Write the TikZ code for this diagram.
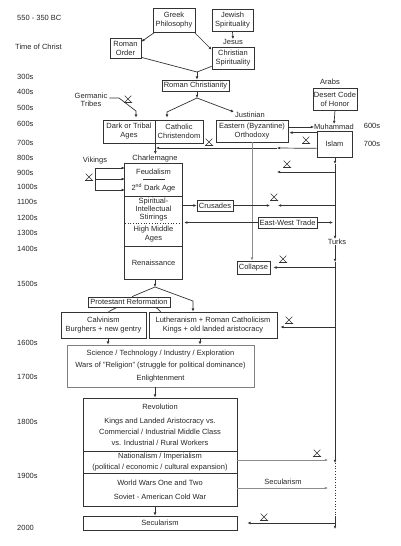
\documentclass[tikz,border=0pt]{standalone}
\usepackage{fontspec}
\setmainfont{Liberation Sans}
\usetikzlibrary{arrows.meta,calc}
\tikzset{
  lbl/.style={font=\fontsize{7.5}{9}\selectfont, inner sep=0pt, align=center, text=black!85},
  box/.style={lbl, draw=black!80, line width=0.7pt},
  ln/.style={draw=black!80, line width=0.7pt},
  arr/.style={ln, -{Latex[length=3.2pt,width=2.8pt]}},
  grey/.style={draw=black!45},
  xm/.pic={\draw[black!80, line width=0.6pt] (-3.3,-3.3)--(3.3,3.3) (-3.3,3.3)--(3.3,-3.3) (-4,3.5)--(4,3.5);}
}
\begin{document}
\begin{tikzpicture}[x=1pt,y=-1pt]
\useasboundingbox (0,0) rectangle (400,546);

% timeline
\node[lbl,anchor=west] (tbc) at (17,18) {550 - 350 BC};
\node[lbl,anchor=west] (tchr) at (15,47) {Time of Christ};
\foreach \t/\yy in {300s/77,400s/92,500s/108,600s/124,700s/143,800s/158,900s/173,1000s/187,1100s/202,1200s/218,1300s/233,1400s/249,1500s/284,1600s/343,1700s/377,1800s/422,1900s/476,2000/528}
  \node[lbl,anchor=west] (t\t) at (17,\yy) {\t};

% top boxes
\node[box,minimum width=42,minimum height=24] (greek) at (174,20) {Greek\\Philosophy};
\node[box,minimum width=41,minimum height=22] (jewish) at (232.5,20) {Jewish\\Spirituality};
\node[box,minimum width=31,minimum height=20] (ro) at (125.5,48) {Roman\\Order};
\node[lbl] (jesus) at (233,42) {Jesus};
\node[box,minimum width=42,minimum height=22] (christ) at (233,58) {Christian\\Spirituality};
\node[box,minimum width=67,minimum height=11] (romchr) at (195.5,85.5) {Roman Christianity};
\node[lbl] (arabs) at (330,82) {Arabs};
\node[box,minimum width=44,minimum height=22] (desert) at (335,99) {Desert Code\\of Honor};
\node[lbl,font=\fontsize{7.5}{8}\selectfont] (germ) at (91,100) {Germanic\\Tribes};
\node[box,minimum width=52,minimum height=23] (dark) at (129,131.5) {Dark or Tribal\\Ages};
\node[box,minimum width=48,minimum height=23] (cath) at (179,131.5) {Catholic\\Christendom};
\node[lbl] (just) at (250,115) {Justinian};
\node[box,minimum width=72,minimum height=22] (east) at (252,131) {Eastern (Byzantine)\\Orthodoxy};
\node[lbl] (muh) at (334,127) {Muhammad};
\node[box,minimum width=35,minimum height=26] (islam) at (334.5,144) {Islam};
\node[lbl] (r600) at (372,126) {600s};
\node[lbl] (r700) at (372,144) {700s};
\node[lbl] (charl) at (155,159) {Charlemagne};
\node[lbl] (vik) at (95,161) {Vikings};

% Charlemagne column
\node[lbl,minimum width=57,minimum height=32] (feud) at (153.5,180) {};
\node[lbl] (feudt) at (153.5,172) {Feudalism};
\node[lbl] (dark2) at (153.5,187.5) {2\textsuperscript{nd} Dark Age};
\node[lbl,minimum width=57,minimum height=27,font=\fontsize{7.5}{7.6}\selectfont] (spirit) at (153.5,209.5) {Spiritual-\\Intellectual\\Stirrings};
\node[lbl,minimum width=57,minimum height=23] (high) at (153.5,234.5) {High Middle\\Ages};
\node[lbl,minimum width=57,minimum height=33] (ren) at (153.5,262.5) {Renaissance};
\draw[ln] (feud.north west) rectangle (ren.south east);
\draw[ln] (feud.south west) -- (feud.south east);
\draw[ln,dotted] (spirit.south west) -- (spirit.south east);
\draw[ln] (high.south west) -- (high.south east);
\draw[ln] (143,179) -- (165,179);

% middle boxes
\node[box,minimum width=36,minimum height=11] (crus) at (215,205.5) {Crusades};
\node[box,minimum width=59,minimum height=11] (ewt) at (287.5,222.5) {East-West Trade};
\node[lbl] (turks) at (337,242) {Turks};
\node[box,minimum width=33,minimum height=13] (coll) at (253.5,267.5) {Collapse};
\node[box,minimum width=82,minimum height=10] (prot) at (129,302) {Protestant Reformation};
\node[box,minimum width=85,minimum height=26] (calv) at (103.5,325) {Calvinism\\Burghers + new gentry};
\node[box,minimum width=128,minimum height=26] (luth) at (213,325) {Lutheranism + Roman Catholicism\\Kings + old landed aristocracy};
\node[box,draw=black!50,minimum width=187,minimum height=42,font=\fontsize{7.5}{12.5}\selectfont] (sci) at (160.5,366) {Science / Technology / Industry / Exploration\\Wars of "Religion" (struggle for political dominance)\\Enlightenment};
\node[box,minimum width=154,minimum height=53,font=\fontsize{7.5}{11}\selectfont] (rev) at (160,424.5) {Revolution\\[3pt]Kings and Landed Aristocracy vs.\\Commercial / Industrial Middle Class\\vs. Industrial / Rural Workers};
\node[box,minimum width=154,minimum height=22,font=\fontsize{7.5}{11}\selectfont] (nat) at (160,462) {Nationalism / Imperialism\\(political / economic / cultural expansion)};
\node[box,minimum width=154,minimum height=33,font=\fontsize{7.5}{14}\selectfont] (ww) at (160,489.5) {World Wars One and Two\\Soviet - American Cold War};
\node[box,minimum width=154,minimum height=14] (secb) at (160,523) {Secularism};
\node[lbl] (secl) at (283,482) {Secularism};

% top connectors
\coordinate (j1) at (197,72);
\coordinate (j2) at (197,98);
\draw[arr] ($(greek.south west)+(2,0)$) -- ($(ro.north east)+(0,4)$);
\draw[arr] ($(greek.south east)+(-1,0)$) -- ($(christ.north west)+(0,3)$);
\draw[arr] (jewish.south) -- (jesus.north);
\draw[ln] ($(ro.south east)+(0,-1)$) -- (j1);
\draw[ln] ($(christ.south west)+(0,-3)$) -- (j1);
\draw[arr] (j1) -- (j1 |- romchr.north);
\draw[arr] (romchr.south -| j1) -- (j2);
\coordinate (j2c) at (167,112);
\draw[arr,shorten >=2pt] (j2) -- (j2c) -- (j2c |- cath.north);
\draw[arr] (j2) -- ($(just.north west)+(-1,0)$);
\coordinate (g1) at (119,98);
\coordinate (g2) at (136,111);
\draw[arr,shorten >=2pt] ($(germ.east)+(2,-2)$) -- (g1) -- (g2) -- (g2 |- dark.north);
\draw[arr] (desert.south) -- (muh.north);
\draw[arr] (east.east |- muh.west) -- (muh.west);
\draw[arr] ($(islam.north west)+(0,2)$) -- ($(east.north east)+(1,13)$);
\coordinate (i1) at (277,148);
\coordinate (i2) at (156,148);
\draw[arr] ($(islam.south west)+(0,-9)$) -- (i1);
\draw[arr] (i1) -- (i2);
\draw[arr] (dark.south east) -- ($(dark.south east |- charl.north)+(0,-1)$);

% Vikings
\coordinate (v1) at (95,168);
\coordinate (v2) at (95,179);
\coordinate (v3) at (95,190);
\draw[ln] (v1) -- (v3);
\draw[arr] (v1) -- (v1 -| feud.west);
\draw[arr] (v2) -- (v2 -| feud.west);
\draw[arr] (v3) -- (v3 -| feud.west);

% Eastern to collapse
\draw[arr,grey] (east.south) -- (east.south |- coll.north);
\draw[arr] (spirit.east |- crus.west) -- (crus.west);
\coordinate (cr1) at (270,205.5);
\draw[arr] (crus.east) -- (cr1);
\draw[arr] (ewt.west) -- ($(ewt.west -| spirit.east)+(2,0)$);
\coordinate (ew1) at (333,222.5);
\draw[arr] (ewt.east) -- (ew1);

% right vertical
\coordinate (r1) at (335,164);
\coordinate (r2) at (335,262);
\coordinate (r3) at (335,463);
\coordinate (r4) at (335,516);
\coordinate (r5) at (335,529);
\draw[arr] (islam.south -| r1) -- (r1);
\draw[arr] (r1) -- (r1 |- turks.north);
\draw[arr] (r1 |- turks.south) -- (r2);
\draw[arr] (r2) -- (r3);
\draw[ln,dotted] (r3) -- (r4);
\draw[arr] (r4) -- (r5);

\coordinate (b1s) at (335,172);
\coordinate (b1e) at (277,172);
\draw[arr] (b1s) -- (b1e);
\coordinate (b2s) at (335,205.5);
\coordinate (b2e) at (278,205.5);
\draw[arr] (b2s) -- (b2e);
\coordinate (b4e) at ($(coll.east)+(3,0)$);
\draw[arr] (r2 |- b4e) -- (b4e);
\coordinate (b5e) at ($(luth.east)+(3,2)$);
\draw[arr] (r2 |- b5e) -- (b5e);
\coordinate (b6e) at ($(secb.east)+(10,0)$);
\draw[arr] (r4 |- b6e) -- (b6e);
\coordinate (n1) at (328,460);
\draw[arr,grey] (nat.east |- n1) -- (n1);
\coordinate (n2) at (328,488);
\draw[arr,grey] (ww.east |- n2) -- (n2);

% Renaissance and after
\coordinate (j3) at (155,287);
\draw[arr] (ren.south -| j3) -- (j3);
\draw[ln] (j3) -- ($(prot.north)+(3,0)$);
\coordinate (j4) at (193,301);
\draw[arr] (j3) -- (j4) -- (j4 |- luth.north);
\draw[ln] ($(prot.south)+(-12,0)$) -- ($(calv.north)+(5,0)$);
\draw[ln] ($(prot.south)+(27,0)$) -- ($(luth.north west)+(12,0)$);
\coordinate (cs) at ($(calv.south)+(4.5,0)$);
\draw[arr] (cs) -- (cs |- sci.north);
\coordinate (ls) at ($(luth.south)+(-13,0)$);
\draw[arr] (ls) -- (ls |- sci.north);
\draw[arr] (sci.south -| j3) -- (j3 |- rev.north);
\draw[arr] (ww.south -| j3) -- (j3 |- secb.north);

% conflict marks
\foreach \p in {(128,99),(209,142),(306,140),(287,164),(274,197),(283,259),(289,320),(317,453),(264,517),(89,177)}
  \pic at \p {xm};
\end{tikzpicture}
\end{document}
